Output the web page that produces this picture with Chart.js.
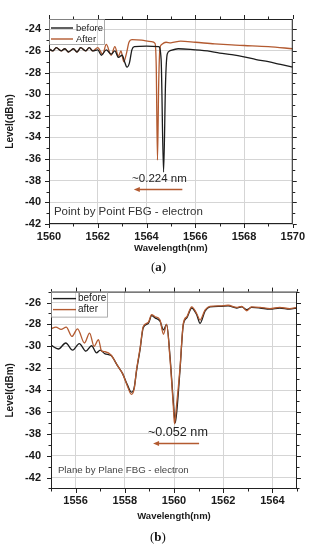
<!DOCTYPE html>
<html>
<head>
<meta charset="utf-8">
<script src="https://cdn.jsdelivr.net/npm/chart.js@4.4.1/dist/chart.umd.min.js"></script>
<style>
  body { margin: 0; background: #fff; width: 311px; height: 550px; position: relative; overflow: hidden; }
  .box { position: absolute; left: 0; width: 311px; height: 275px; }
  .cap { position: absolute; font-family: "Liberation Serif", "Times New Roman", serif; font-size: 13px; color: #111; line-height: 15px; }
</style>
</head>
<body>
<div class="box" style="top:0"><canvas id="chartA"></canvas></div>
<div class="box" style="top:275px"><canvas id="chartB"></canvas></div>
<div class="cap" style="left:151px;top:259px">(<b>a</b>)</div>
<div class="cap" style="left:150px;top:529px">(<b>b</b>)</div>
<script>
// (a) Point by Point FBG - electron
const waveA_before = [1560.0, 1560.15, 1560.3, 1560.5, 1560.65, 1560.8, 1561.0, 1561.15, 1561.3, 1561.5, 1561.65, 1561.8,
  1562.0, 1562.15, 1562.35, 1562.55, 1562.7, 1562.85, 1563.0, 1563.1, 1563.2, 1563.3, 1563.4, 1563.5, 1564.0, 1564.5,
  1564.6, 1564.7, 1564.78, 1564.85, 1564.95, 1565.3, 1565.8, 1566.5, 1567.0, 1567.5, 1568.0, 1568.5, 1569.0, 1569.5, 1570.0];
const levelA_before = [-25.8, -26.0, -25.7, -26.0, -25.8, -26.1, -25.8, -26.1, -25.7, -26.0, -25.7, -26.0,
  -25.9, -26.4, -25.9, -26.3, -26.0, -26.6, -26.4, -27.0, -27.5, -27.1, -25.9, -25.6, -25.55, -25.6,
  -26.8, -37.2, -29.0, -26.3, -26.0, -25.8, -25.85, -26.0, -26.2, -26.35, -26.55, -26.8, -27.0, -27.25, -27.5];
const waveA_after = [1560.0, 1560.15, 1560.3, 1560.5, 1560.65, 1560.8, 1561.0, 1561.15, 1561.3, 1561.5, 1561.65, 1561.8,
  1562.0, 1562.2, 1562.35, 1562.55, 1562.7, 1562.85, 1562.95, 1563.07, 1563.18, 1563.28, 1563.4, 1563.8, 1564.2, 1564.35,
  1564.4, 1564.45, 1564.5, 1564.55, 1564.62, 1564.8, 1565.0, 1565.4, 1566.0, 1566.8, 1567.5, 1568.0, 1569.0, 1570.0];
const levelA_after = [-25.8, -26.0, -25.7, -26.0, -25.8, -26.1, -25.8, -26.1, -25.7, -26.0, -25.7, -26.0,
  -25.7, -26.3, -25.4, -26.4, -25.6, -26.5, -26.0, -27.0, -26.2, -25.2, -24.95, -25.0, -25.15, -25.3,
  -27.5, -36.1, -29.0, -25.8, -25.4, -25.2, -25.25, -25.1, -25.2, -25.35, -25.45, -25.5, -25.6, -25.8];
const xLabelsA = [1560, 1562, 1564, 1566, 1568, 1570];
const yLabelsA = [-42, -40, -38, -36, -34, -32, -30, -28, -26, -24];

// (b) Plane by Plane FBG - electron
const waveB_before = [1555.0, 1555.3, 1555.6, 1555.88, 1556.15, 1556.42, 1556.65, 1556.85, 1557.0, 1557.2, 1557.44, 1557.71,
  1557.91, 1558.1, 1558.27, 1558.38, 1558.48, 1558.62, 1558.75, 1558.96, 1559.09, 1559.23, 1559.43, 1559.57, 1559.7,
  1559.84, 1559.97, 1560.05, 1560.12, 1560.24, 1560.38, 1560.52, 1560.72, 1560.92, 1561.06, 1561.26, 1561.46, 1561.87,
  1562.2, 1562.55, 1562.75, 1562.96, 1563.15, 1563.5, 1563.9, 1564.3, 1564.7, 1565.0];
const levelB_before = [-29.9, -30.25, -29.7, -30.35, -29.75, -30.45, -29.95, -30.6, -30.35, -30.7, -30.85, -31.8,
  -32.5, -33.5, -34.2, -33.8, -32.2, -30.3, -28.3, -27.9, -27.2, -27.4, -27.7, -28.5, -28.0,
  -31.0, -35.0, -37.0, -35.8, -32.3, -28.0, -27.4, -26.5, -27.1, -27.9, -26.8, -26.4, -26.35,
  -26.3, -26.5, -26.4, -26.65, -26.45, -26.5, -26.6, -26.5, -26.6, -26.5];
const waveB_after = [1555.0, 1555.2, 1555.41, 1555.62, 1555.85, 1556.08, 1556.36, 1556.57, 1556.75, 1556.93, 1557.05, 1557.2,
  1557.44, 1557.71, 1557.91, 1558.1, 1558.27, 1558.38, 1558.48, 1558.62, 1558.75, 1558.96, 1559.09, 1559.23, 1559.43,
  1559.57, 1559.7, 1559.84, 1559.97, 1560.02, 1560.1, 1560.24, 1560.38, 1560.52, 1560.72, 1560.92, 1561.06, 1561.26,
  1561.46, 1561.87, 1562.2, 1562.55, 1562.75, 1562.96, 1563.15, 1563.5, 1563.9, 1564.3, 1564.7, 1565.0];
const levelB_after = [-28.4, -28.25, -28.45, -28.25, -29.1, -28.4, -29.7, -28.8, -30.0, -29.4, -30.4, -30.5,
  -30.8, -31.8, -32.5, -33.6, -34.4, -33.9, -32.1, -30.2, -28.2, -27.8, -27.1, -27.3, -27.6,
  -28.9, -28.0, -31.2, -35.4, -37.1, -35.5, -32.1, -27.9, -27.3, -26.4, -27.0, -27.6, -26.7,
  -26.35, -26.3, -26.25, -26.45, -26.35, -26.75, -26.4, -26.45, -26.55, -26.45, -26.55, -26.45];
const xLabelsB = [1556, 1558, 1560, 1562, 1564];
const yLabelsB = [-42, -40, -38, -36, -34, -32, -30, -28, -26];

const FONT = "'Liberation Sans', Arial, sans-serif";
const BLACK = '#1c1c1c';
const BROWN = '#b35a30';
Chart.defaults.font.family = FONT;

function pts(xs, ys) {
  return xs.map((x, i) => ({ x: x, y: ys[i] }));
}

// major ticks plus one minor tick between them (and at the ends if inside range)
function withMinor(labels, min, max) {
  const step = (labels[1] - labels[0]) / 2;
  const out = [];
  for (let v = labels[0] - step; v <= labels[labels.length - 1] + step + 1e-9; v += step) {
    if (v >= min - 1e-9 && v <= max + 1e-9) out.push(Math.round(v * 100) / 100);
  }
  return out;
}

// box around the plot + outward ticks on all four sides
const frame = {
  id: 'frame',
  afterDraw(chart) {
    const { ctx, chartArea: a, scales } = chart;
    const xs = scales.x, ys = scales.y;
    const xl = chart.options.scales.x.majors, yl = chart.options.scales.y.majors;
    ctx.save();
    ctx.strokeStyle = '#222';
    ctx.lineWidth = 1;
    ctx.strokeRect(a.left + 0.5, a.top + 0.5, a.right - a.left - 1, a.bottom - a.top - 1);
    ctx.beginPath();
    xs.ticks.forEach(t => {
      const px = Math.round(xs.getPixelForValue(t.value)) + 0.5;
      const len = xl.includes(t.value) ? 4 : 2.5;
      ctx.moveTo(px, a.bottom); ctx.lineTo(px, a.bottom + len);
      ctx.moveTo(px, a.top); ctx.lineTo(px, a.top - len);
    });
    ys.ticks.forEach(t => {
      const py = Math.round(ys.getPixelForValue(t.value)) + 0.5;
      const len = yl.includes(t.value) ? 4 : 2.5;
      ctx.moveTo(a.left, py); ctx.lineTo(a.left - len, py);
      ctx.moveTo(a.right, py); ctx.lineTo(a.right + len, py);
    });
    ctx.stroke();
    ctx.restore();
  }
};

// small legend box in the top-left corner of the plot
const keybox = {
  id: 'keybox',
  afterDraw(chart, args, o) {
    const { ctx, chartArea: a } = chart;
    ctx.save();
    ctx.strokeStyle = '#9a9a9a';
    ctx.lineWidth = 0.8;
    ctx.strokeRect(a.left + 0.5, a.top + 0.5, o.w, o.h);
    ctx.font = o.size + 'px ' + FONT;
    ctx.textBaseline = 'middle';
    chart.data.datasets.forEach((ds, i) => {
      const yy = a.top + o.rows[i];
      ctx.strokeStyle = ds.borderColor;
      ctx.lineWidth = 1.4;
      ctx.beginPath();
      ctx.moveTo(a.left + o.lineFrom, yy);
      ctx.lineTo(a.left + o.lineTo, yy);
      ctx.stroke();
      ctx.fillStyle = '#222';
      ctx.fillText(ds.label, a.left + o.textX, yy);
    });
    ctx.restore();
  }
};

// annotation texts and the shift arrow, placed in data units
const notes = {
  id: 'notes',
  afterDatasetsDraw(chart, args, o) {
    const { ctx, scales: { x, y } } = chart;
    ctx.save();
    ctx.textBaseline = 'middle';
    o.texts.forEach(t => {
      ctx.font = t.size + 'px ' + FONT;
      ctx.fillStyle = t.color;
      ctx.textAlign = t.align;
      ctx.fillText(t.text, x.getPixelForValue(t.x), y.getPixelForValue(t.y));
    });
    const x1 = x.getPixelForValue(o.arrow.from);
    const x2 = x.getPixelForValue(o.arrow.to);
    const py = Math.round(y.getPixelForValue(o.arrow.y)) + 0.5;
    ctx.strokeStyle = BROWN;
    ctx.fillStyle = BROWN;
    ctx.lineWidth = 1.3;
    ctx.beginPath();
    ctx.moveTo(x1, py);
    ctx.lineTo(x2 + 4, py);
    ctx.stroke();
    ctx.beginPath();
    ctx.moveTo(x2, py);
    ctx.lineTo(x2 + 6, py - 2.5);
    ctx.lineTo(x2 + 6, py + 2.5);
    ctx.closePath();
    ctx.fill();
    ctx.restore();
  }
};

function buildOptions(c) {
  const tickFont = { family: FONT, size: 11, weight: 'bold' };
  return {
    responsive: true,
    maintainAspectRatio: false,
    animation: false,
    layout: { padding: c.padding },
    elements: {
      point: { radius: 0 },
      line: { borderWidth: 1.3, cubicInterpolationMode: 'monotone' }
    },
    plugins: {
      legend: { display: false },
      tooltip: { enabled: false },
      keybox: c.key,
      notes: c.notes
    },
    scales: {
      x: {
        type: 'linear',
        min: c.xMin,
        max: c.xMax,
        majors: c.xLabels,
        afterBuildTicks: s => { s.ticks = withMinor(c.xLabels, c.xMin, c.xMax).map(v => ({ value: v })); },
        afterFit: s => { s.height = c.xHeight; },
        ticks: {
          autoSkip: false, maxRotation: 0, padding: c.xPad, color: '#1a1a1a', font: tickFont,
          callback: v => c.xLabels.includes(v) ? String(v) : ''
        },
        grid: {
          drawTicks: false,
          color: ctx => ctx.tick && c.xLabels.includes(ctx.tick.value) ? '#d5d5d5' : 'rgba(0,0,0,0)'
        },
        border: { display: false },
        title: {
          display: true, text: 'Wavelength(nm)', color: '#1a1a1a', padding: 0,
          font: { family: FONT, size: 9.5, weight: 'bold' }
        }
      },
      y: {
        type: 'linear',
        min: c.yMin,
        max: c.yMax,
        majors: c.yLabels,
        afterBuildTicks: s => { s.ticks = withMinor(c.yLabels, c.yMin, c.yMax).map(v => ({ value: v })); },
        afterFit: s => { s.width = c.yWidth; },
        ticks: {
          autoSkip: false, padding: c.yPad, color: '#1a1a1a', font: tickFont,
          callback: v => c.yLabels.includes(v) ? String(v) : ''
        },
        grid: {
          drawTicks: false,
          color: ctx => ctx.tick && c.yLabels.includes(ctx.tick.value) ? '#d5d5d5' : 'rgba(0,0,0,0)'
        },
        border: { display: false },
        title: {
          display: true, text: 'Level(dBm)', color: '#1a1a1a', padding: { top: 4, bottom: 0 },
          font: { family: FONT, size: 10, weight: 'bold' }
        }
      }
    }
  };
}

new Chart(document.getElementById('chartA'), {
  type: 'line',
  data: {
    datasets: [
      { label: 'before', data: pts(waveA_before, levelA_before), borderColor: BLACK, order: 0 },
      { label: 'After', data: pts(waveA_after, levelA_after), borderColor: BROWN, order: 1 }
    ]
  },
  options: buildOptions({
    padding: { left: 0, top: 19, right: 15, bottom: 21 },
    xMin: 1560, xMax: 1570, xLabels: xLabelsA, xHeight: 30, xPad: 6,
    yMin: -42, yMax: -23.05, yLabels: yLabelsA, yWidth: 49, yPad: 8,
    key: { w: 55, h: 25, rows: [9, 20], lineFrom: 2, lineTo: 24, textX: 27, size: 9.5 },
    notes: {
      texts: [
        { text: '~0.224 nm', x: 1564.53, y: -37.78, size: 11.5, align: 'center', color: '#222' },
        { text: 'Point by Point FBG - electron', x: 1560.2, y: -40.9, size: 11.5, align: 'left', color: '#333' }
      ],
      arrow: { from: 1565.47, to: 1563.48, y: -38.79 }
    }
  }),
  plugins: [frame, keybox, notes]
});

new Chart(document.getElementById('chartB'), {
  type: 'line',
  data: {
    datasets: [
      { label: 'before', data: pts(waveB_before, levelB_before), borderColor: BLACK, order: 1 },
      { label: 'after', data: pts(waveB_after, levelB_after), borderColor: BROWN, order: 0 }
    ]
  },
  options: buildOptions({
    padding: { left: 0, top: 11, right: 14, bottom: 28 },
    xMin: 1555, xMax: 1565, xLabels: xLabelsB, xHeight: 33, xPad: 5,
    yMin: -43.05, yMax: -25, yLabels: yLabelsB, yWidth: 51, yPad: 10,
    key: { w: 56, h: 25, rows: [7, 18], lineFrom: 2, lineTo: 25, textX: 27, size: 10 },
    notes: {
      texts: [
        { text: '~0.052 nm', x: 1560.16, y: -37.84, size: 12.6, align: 'center', color: '#222' },
        { text: 'Plane by Plane FBG - electron', x: 1555.28, y: -41.31, size: 9.7, align: 'left', color: '#444' }
      ],
      arrow: { from: 1561.02, to: 1559.15, y: -38.82 }
    }
  }),
  plugins: [frame, keybox, notes]
});
</script>
</body>
</html>
